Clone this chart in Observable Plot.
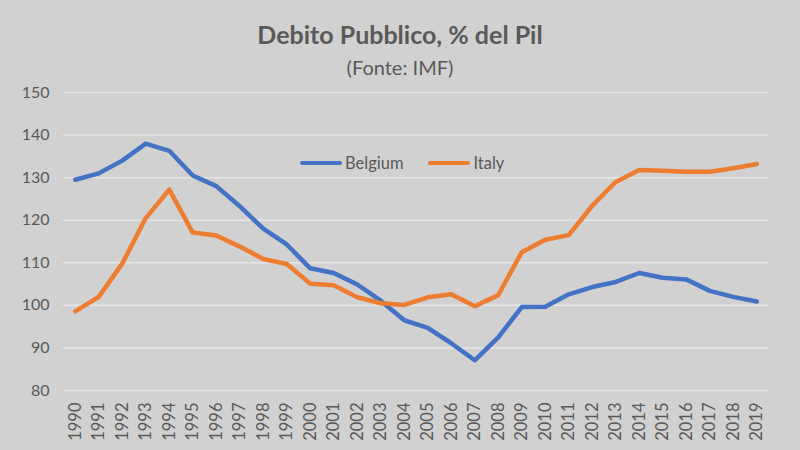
<!DOCTYPE html>
<html>
<head>
<meta charset="utf-8">
<script src="https://cdn.jsdelivr.net/npm/d3@7"></script>
<script src="https://cdn.jsdelivr.net/npm/@observablehq/plot@0.6"></script>
<style>
  body { margin: 0; }
  #wrap { position: relative; width: 800px; height: 450px; background: #d1d1d1; font-family: Lato, "Open Sans", sans-serif; color: #595959; overflow: hidden; }
  #title { position: absolute; top: 19px; left: 0; width: 800px; text-align: center; font-size: 25px; font-weight: bold; }
  #subtitle { position: absolute; top: 55px; left: 0; width: 800px; text-align: center; font-size: 20px; }
  #legend { position: absolute; top: 153px; left: 300px; font-size: 16.5px; display: flex; align-items: center; }
  #legend .sw { display: inline-block; width: 42px; height: 4px; border-radius: 2px; margin-right: 3px; }
  #legend .item { display: flex; align-items: center; margin-right: 25px; }
  #chart { position: absolute; top: 0; left: 0; }
</style>
</head>
<body>
<div id="wrap">
  <div id="chart"></div>
  <div id="title">Debito Pubblico, % del Pil</div>
  <div id="subtitle">(Fonte: IMF)</div>
  <div id="legend"></div>
</div>
<script>
const years = ["1990","1991","1992","1993","1994","1995","1996","1997","1998","1999","2000","2001","2002","2003","2004","2005","2006","2007","2008","2009","2010","2011","2012","2013","2014","2015","2016","2017","2018","2019"];
const belgium = [129.5,131.0,134.0,138.0,136.3,130.5,128.0,123.3,118.0,114.3,108.7,107.6,104.9,101.1,96.5,94.7,91.1,87.1,92.5,99.6,99.7,102.6,104.3,105.5,107.6,106.5,106.1,103.4,102.0,100.9];
const italy = [98.6,102.0,109.8,120.5,127.2,117.1,116.4,113.8,110.9,109.7,105.1,104.7,101.9,100.5,100.1,101.9,102.6,99.8,102.4,112.5,115.4,116.5,123.4,129.0,131.8,131.6,131.4,131.4,132.2,133.2];
const yTicks = [80,90,100,110,120,130,140,150];
const seriesNames = ["Belgium","Italy"];
const seriesColors = ["#4472C4","#ED7D31"];

const data = [];
years.forEach((y,i) => {
  data.push({year: y, value: belgium[i], series: "Belgium"});
  data.push({year: y, value: italy[i], series: "Italy"});
});

const plot = Plot.plot({
  width: 800,
  height: 450,
  marginTop: 92,
  marginBottom: 60,
  marginLeft: 63,
  marginRight: 32,
  style: {background: "transparent", color: "#595959", fontFamily: "Lato, 'Open Sans', sans-serif", fontSize: "15px"},
  x: {type: "point", domain: years, padding: 0.5, round: false, label: null},
  y: {domain: [80,150], ticks: yTicks, label: null},
  color: {domain: seriesNames, range: seriesColors},
  marks: [
    Plot.gridY(yTicks, {stroke: "#e6e6e6", strokeOpacity: 1, strokeWidth: 1.5}),
    Plot.axisY(yTicks, {tickSize: 0, tickPadding: 14, fontSize: 16, fill: "#595959"}),
    Plot.axisX({tickSize: 0, tickRotate: -90, tickPadding: 12, fontSize: 16.5, fill: "#595959"}),
    Plot.line(data, {x: "year", y: "value", z: "series", stroke: "series", strokeWidth: 4.5, strokeLinejoin: "round", strokeLinecap: "round"})
  ]
});
document.getElementById("chart").appendChild(plot);

const legend = document.getElementById("legend");
seriesNames.forEach((n,i) => {
  const it = document.createElement("div");
  it.className = "item";
  it.innerHTML = `<span class="sw" style="background:${seriesColors[i]}"></span><span>${n}</span>`;
  legend.appendChild(it);
});
</script>
</body>
</html>
